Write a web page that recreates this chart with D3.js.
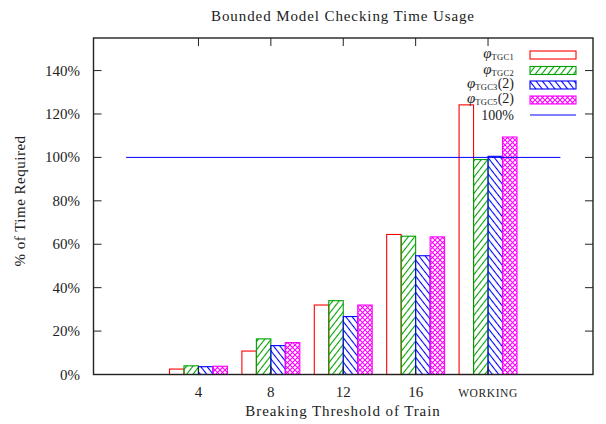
<!DOCTYPE html>
<html>
<head>
<meta charset="utf-8">
<script src="https://cdn.jsdelivr.net/npm/d3@7"></script>
<style>
  body { margin: 0; background: #fff; }
  text { font-family: "Liberation Serif", "DejaVu Serif", serif; fill: #222; }
</style>
</head>
<body>
<script>
const width = 606;
const height = 424;

// data (percent of time required)
const categories = ["4", "8", "12", "16", "WORKING"];
const seriesNames = ["TGC1", "TGC2", "TGC3", "TGC5"];
const seriesSuffix = ["", "", "(2)", "(2)"];
const tgc1 = [2.5, 10.8, 32, 64.5, 124.2];
const tgc2 = [4, 16.4, 34, 63.7, 99];
const tgc3 = [3.6, 13.3, 26.7, 54.7, 100.5];
const tgc5 = [3.8, 14.7, 32, 63.4, 109.4];
const yTicks = [0, 20, 40, 60, 80, 100, 120, 140];
const reference = 100;

const seriesValues = [tgc1, tgc2, tgc3, tgc5];
const colors = ["#ff0000", "#00a000", "#0000ff", "#ff00ff"];

const x = d3.scaleLinear().domain([-1.45, 5.45]).range([93.5, 593]);
const y = d3.scaleLinear().domain([0, 155]).range([374.5, 38]);
const barW = 0.2;

var svg = d3.select("body")
    .append("svg")
    .attr("width", width)
    .attr("height", height);

// fill patterns
const defs = svg.append("defs");

function hatch(id, color, angle, gap) {
    const p = defs.append("pattern")
        .attr("id", id)
        .attr("patternUnits", "userSpaceOnUse")
        .attr("width", gap)
        .attr("height", 10)
        .attr("patternTransform", "rotate(" + angle + ")");
    p.append("line")
        .attr("x1", gap / 2).attr("y1", 0)
        .attr("x2", gap / 2).attr("y2", 10)
        .attr("stroke", color)
        .attr("stroke-width", 1.1);
}
hatch("pat1", colors[1], 38, 5);
hatch("pat2", colors[2], -38, 5);

const cross = defs.append("pattern")
    .attr("id", "pat3")
    .attr("patternUnits", "userSpaceOnUse")
    .attr("width", 5)
    .attr("height", 5);
cross.append("path")
    .attr("d", "M0,0L5,5M5,0L0,5")
    .attr("stroke", colors[3])
    .attr("stroke-width", 1.1)
    .attr("fill", "none");

const fills = ["#fff", "url(#pat1)", "url(#pat2)", "url(#pat3)"];

// bars
const bars = [];
seriesValues.forEach(function(vals, j) {
    vals.forEach(function(v, i) {
        bars.push({ s: j, i: i, v: v });
    });
});

svg.append("g")
    .selectAll("rect")
    .data(bars)
    .enter()
    .append("rect")
    .attr("x", d => x(d.i + (d.s - 2) * barW))
    .attr("y", d => y(d.v))
    .attr("width", d => x(barW) - x(0))
    .attr("height", d => y(0) - y(d.v))
    .attr("fill", d => fills[d.s])
    .attr("stroke", d => colors[d.s])
    .attr("stroke-width", 1.1);

// 100% line
svg.append("line")
    .attr("x1", x(-1)).attr("x2", x(5))
    .attr("y1", y(reference)).attr("y2", y(reference))
    .attr("stroke", "#0000ff")
    .attr("stroke-width", 1);

// frame and ticks
const axisG = svg.append("g").attr("stroke", "#222").attr("stroke-width", 1);
axisG.selectAll(".yl")
    .data(yTicks)
    .enter()
    .append("path")
    .attr("d", d => "M" + x.range()[0] + "," + y(d) + "h8M" + x.range()[1] + "," + y(d) + "h-8");
axisG.selectAll(".xt")
    .data(categories)
    .enter()
    .append("path")
    .attr("d", (d, i) => "M" + x(i) + "," + y.range()[1] + "v8M" + x(i) + "," + y.range()[0] + "v-8");
svg.append("rect")
    .attr("x", x.range()[0]).attr("y", y.range()[1])
    .attr("width", x.range()[1] - x.range()[0])
    .attr("height", y.range()[0] - y.range()[1])
    .attr("fill", "none")
    .attr("stroke", "#222")
    .attr("stroke-width", 1.4);

// tick labels
svg.append("g")
    .selectAll("text")
    .data(yTicks)
    .enter()
    .append("text")
    .attr("x", 80)
    .attr("y", d => y(d) + 5)
    .attr("text-anchor", "end")
    .style("font-size", "15px")
    .text(d => d + "%");

svg.append("g")
    .selectAll("text")
    .data(categories)
    .enter()
    .append("text")
    .attr("x", (d, i) => x(i))
    .attr("y", 397)
    .attr("text-anchor", "middle")
    .style("font-size", d => isNaN(+d) ? "11.5px" : "15px")
    .style("letter-spacing", d => isNaN(+d) ? "0.6px" : null)
    .text(d => d);

// titles
svg.append("text")
    .attr("x", 343)
    .attr("y", 21)
    .attr("text-anchor", "middle")
    .style("font-size", "15px")
    .style("letter-spacing", "0.9px")
    .text("Bounded Model Checking Time Usage");

svg.append("text")
    .attr("x", 343)
    .attr("y", 416)
    .attr("text-anchor", "middle")
    .style("font-size", "15px")
    .style("letter-spacing", "0.9px")
    .text("Breaking Threshold of Train");

svg.append("text")
    .attr("transform", "translate(25,201) rotate(-90)")
    .attr("text-anchor", "middle")
    .style("font-size", "15px")
    .style("letter-spacing", "0.5px")
    .text("% of Time Required");

// legend
const legendY = [55, 70.5, 85, 100];
const legend = svg.append("g");
seriesNames.forEach(function(name, j) {
    const t = legend.append("text")
        .attr("x", 514)
        .attr("y", legendY[j] + 3)
        .attr("text-anchor", "end")
        .style("font-size", "14px");
    t.append("tspan").style("font-style", "italic").style("font-size", "15px").text("\u03c6");
    t.append("tspan")
        .attr("dy", 2)
        .style("font-size", "8.5px")
        .style("letter-spacing", "0.3px")
        .text(name);
    t.append("tspan").attr("dy", -2).text(seriesSuffix[j]);
    legend.append("rect")
        .attr("x", 530).attr("y", legendY[j] - 4)
        .attr("width", 46).attr("height", 8)
        .attr("fill", fills[j])
        .attr("stroke", colors[j])
        .attr("stroke-width", 1.1);
});
legend.append("text")
    .attr("x", 514)
    .attr("y", 120)
    .attr("text-anchor", "end")
    .style("font-size", "14px")
    .text(reference + "%");
legend.append("line")
    .attr("x1", 530).attr("x2", 576)
    .attr("y1", 115).attr("y2", 115)
    .attr("stroke", "#0000ff")
    .attr("stroke-width", 1);
</script>
</body>
</html>
